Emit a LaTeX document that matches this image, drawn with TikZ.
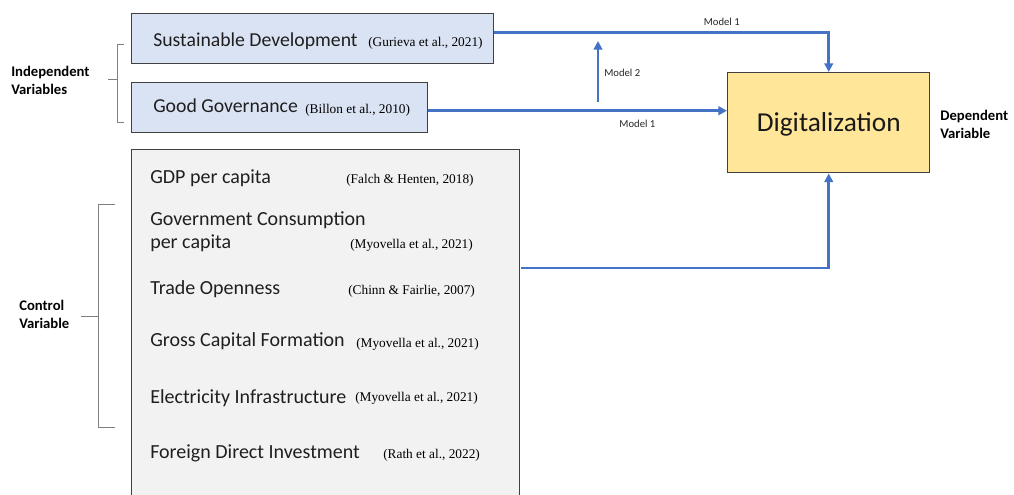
\documentclass[tikz,border=0pt]{standalone}
\usepackage{fontspec}
\setmainfont{Carlito}
\newfontfamily\citefont{Liberation Serif}
\usepackage{tikz}
\usetikzlibrary{arrows.meta,positioning,calc}

\definecolor{sdblue}{HTML}{DAE3F3}
\definecolor{ctrlgray}{HTML}{F2F2F2}
\definecolor{digyellow}{HTML}{FFE699}
\definecolor{flowblue}{HTML}{4472C4}
\definecolor{edgegray}{HTML}{404040}
\definecolor{bracketgray}{HTML}{7F7F7F}

\tikzset{
  varbox/.style={draw=edgegray, line width=1.1pt, anchor=north west, inner sep=0pt},
  flow/.style={draw=flowblue, line width=2pt, -{Triangle[length=6.5pt,width=6.5pt]}},
  bracket/.style={draw=bracketgray, line width=0.7pt},
  vartext/.style={anchor=base west, inner sep=0pt, text=black!88, font=\fontsize{15}{18}\selectfont},
  toptext/.style={vartext, font=\fontsize{14.8}{17}\selectfont},
  citetext/.style={anchor=base west, inner sep=0pt, font=\citefont\fontsize{10}{12}\selectfont},
  modeltext/.style={inner sep=0pt, text=black!85, font=\fontsize{8}{10}\selectfont},
  sidetext/.style={anchor=west, inner sep=0pt, align=left, font=\bfseries\fontsize{11}{13.5}\selectfont},
}

\begin{document}
\begin{tikzpicture}[x=0.75pt, y=-0.75pt]
      \useasboundingbox (0, 0) rectangle (1014, 495);

      % boxes
      \node[varbox, fill=sdblue, minimum width=271.5pt, minimum height=37.5pt] (sd) at (131, 13) {};
      \node[varbox, fill=sdblue, minimum width=222pt, minimum height=37.5pt] (gg) at (131, 82) {};
      \node[varbox, fill=ctrlgray, minimum width=291pt, minimum height=267pt] (ctrl) at (131, 149) {};
      \node[varbox, fill=digyellow, minimum width=151.5pt, minimum height=75pt] (dig) at (727, 72) {};

      \node[inner sep=0pt, text=black!90, font=\fontsize{20.5}{24}\selectfont] (digtext) at ([yshift=-1.5pt]dig.center) {Digitalization};

      \node[toptext] (sdtext) at (153, 47) {Sustainable Development};
      \node[citetext] (sdcite) at (368, 47) {(Gurieva et al., 2021)};
      \node[toptext] (ggtext) at (153, 113) {Good Governance};
      \node[citetext] (ggcite) at (305, 114) {(Billon et al., 2010)};

      % control variables
      \node[vartext] (gdp) at (150, 184) {GDP per capita};
      \node[citetext] (gdpcite) at (346, 184) {(Falch \& Henten, 2018)};
      \node[vartext] (gov) at (150, 226) {Government Consumption};
      \node[vartext] (govpc) at (150, 249) {per capita};
      \node[citetext] (govcite) at (350, 249) {(Myovella et al., 2021)};
      \node[vartext] (trade) at (150, 295) {Trade Openness};
      \node[citetext] (tradecite) at (348, 295) {(Chinn \& Fairlie, 2007)};
      \node[vartext] (gcf) at (150, 346) {Gross Capital Formation};
      \node[citetext] (gcfcite) at (356, 348) {(Myovella et al., 2021)};
      \node[vartext] (elec) at (150, 403) {Electricity Infrastructure};
      \node[citetext] (eleccite) at (355, 402) {(Myovella et al., 2021)};
      \node[vartext] (fdi) at (150, 458) {Foreign Direct Investment};
      \node[citetext] (fdicite) at (383, 458) {(Rath et al., 2022)};

      % side labels
      \node[sidetext] (indep) at (11, 80) {Independent\\Variables};
      \node[sidetext] (ctrlvar) at (19, 314) {Control\\Variable};
      \node[sidetext] (dep) at (940, 124) {Dependent\\Variable};

      % brackets
      \draw[bracket] (124, 44) -- (117, 44) -- (117, 122) -- (124, 122);
      \draw[bracket] (108, 79) -- (117, 79);
      \draw[bracket] (115, 204) -- (98, 204) -- (98, 427) -- (115, 427);
      \draw[bracket] (81, 316) -- (98, 316);

      % model arrows
      \coordinate (m2low) at (598, 102);
      \coordinate (m2high) at (598, 41);
      \coordinate (ctrlout) at (521, 268);

      \draw[flow] ([yshift=4.5pt]sd.east) -| node[modeltext, pos=0.34, above=4pt] (m1top) {Model 1} (dig.north);
      \draw[flow] ([yshift=-2.25pt]gg.east) -- node[modeltext, pos=0.7, below=6pt] (m1low) {Model 1} ([yshift=-2.25pt]gg.east -| dig.west);
      \draw[flow] (m2low) -- (m2high);
      \node[modeltext, anchor=west] (m2) at (604, 73) {Model 2};
      \draw[flow] (ctrlout) -| (dig.south);
\end{tikzpicture}
\end{document}
